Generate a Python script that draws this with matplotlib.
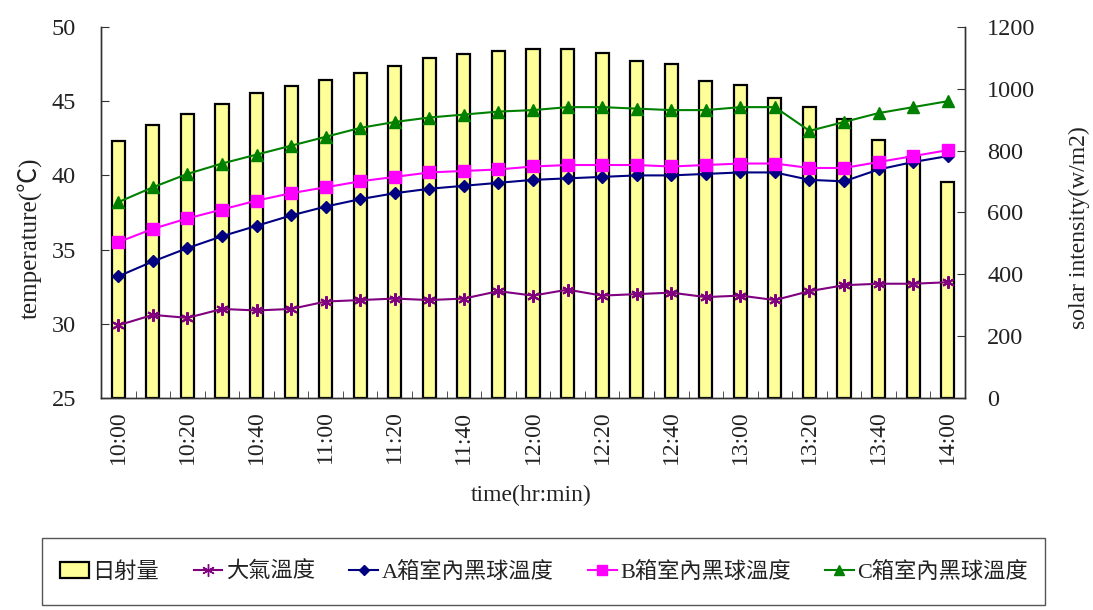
import matplotlib
matplotlib.use("Agg")
import matplotlib.pyplot as plt
from matplotlib.lines import Line2D
from matplotlib.patches import Patch, Rectangle

plt.rcParams['font.family'] = ['Liberation Serif', 'Noto Sans CJK TC', 'DejaVu Sans']

# data
times = ["10:00", "10:10", "10:20", "10:30", "10:40", "10:50", "11:00", "11:10", "11:20",
         "11:30", "11:40", "11:50", "12:00", "12:10", "12:20", "12:30", "12:40", "12:50",
         "13:00", "13:10", "13:20", "13:30", "13:40", "13:50", "14:00"]
solar = [832, 882, 920, 952, 986, 1008, 1028, 1051, 1075, 1099, 1113, 1123, 1130,
         1128, 1115, 1089, 1080, 1026, 1013, 971, 942, 902, 835, 780, 698]
atm = [29.9, 30.6, 30.4, 31.0, 30.9, 31.0, 31.5, 31.6, 31.7, 31.6, 31.7, 32.2, 31.9,
       32.3, 31.9, 32.0, 32.1, 31.8, 31.9, 31.6, 32.2, 32.6, 32.7, 32.7, 32.8]
box_a = [33.2, 34.2, 35.1, 35.9, 36.6, 37.3, 37.9, 38.4, 38.8, 39.1, 39.3, 39.5, 39.7,
         39.8, 39.9, 40.0, 40.0, 40.1, 40.2, 40.2, 39.7, 39.6, 40.4, 40.9, 41.3]
box_b = [35.5, 36.4, 37.1, 37.7, 38.3, 38.8, 39.2, 39.6, 39.9, 40.2, 40.3, 40.4, 40.6,
         40.7, 40.7, 40.7, 40.6, 40.7, 40.8, 40.8, 40.5, 40.5, 40.9, 41.3, 41.7]
box_c = [38.2, 39.2, 40.1, 40.8, 41.4, 42.0, 42.6, 43.2, 43.6, 43.9, 44.1, 44.3, 44.4,
         44.6, 44.6, 44.5, 44.4, 44.4, 44.6, 44.6, 43.0, 43.6, 44.2, 44.6, 45.0]
labels = ["日射量", "大氣溫度", "A箱室內黑球溫度", "B箱室內黑球溫度", "C箱室內黑球溫度"]

x = list(range(len(times)))
spine_col = "#333333"
text_col = "#222222"

fig = plt.figure(figsize=(10.93, 6.10), dpi=100)
ax = fig.add_axes([101/1093, 1 - 398/610, 864/1093, 371/610])
ax2 = ax.twinx()

# bars on the right axis, drawn under the lines
ax2.bar(x, solar, width=0.38, color="#FFFF99", edgecolor="black", linewidth=1.6)
ax2.set_ylim(0, 1200)
ax2.set_yticks(range(0, 1201, 200))

ax.set_zorder(ax2.get_zorder() + 1)
ax.patch.set_visible(False)

ax.plot(x, atm, color="#800080", lw=1.5, marker=(6, 2, 0), ms=9, mew=1.5)
ax.plot(x, box_a, color="#000080", lw=1.5, marker="D", ms=6)
ax.plot(x, box_b, color="#FF00FF", lw=1.5, marker="s", ms=8)
ax.plot(x, box_c, color="#008000", lw=1.5, marker="^", ms=8.5)

ax.set_ylim(25, 50)
ax.set_yticks(range(25, 51, 5))
ax.set_xlim(-0.5, len(times) - 0.5)
ax.set_xticks(x[::2])
ax.set_xticklabels(times[::2], rotation=90)
ax.set_xticks([i - 0.5 for i in range(len(times) + 1)], minor=True)

for a in (ax, ax2):
    a.spines['top'].set_visible(False)
    for s in ('left', 'right', 'bottom'):
        a.spines[s].set_color(spine_col)
        a.spines[s].set_linewidth(1.0)

ax.tick_params(axis='x', which='major', length=0, pad=9, labelsize=17, labelcolor=text_col)
ax.tick_params(axis='x', which='minor', direction='in', length=5, color=spine_col)
ax.tick_params(axis='y', direction='in', length=6, pad=18, labelsize=17.5, color=spine_col,
               labelcolor=text_col)
ax2.tick_params(axis='y', direction='in', length=6, pad=16, labelsize=17.5, color=spine_col,
                labelcolor=text_col)

ax.set_ylabel("temperature(℃)", fontsize=18, color=text_col)
ax.yaxis.set_label_coords(-0.068, 0.43)
ax2.set_ylabel("solar intensity(w/m2)", fontsize=17, color=text_col)
ax2.yaxis.set_label_coords(1.12, 0.46)
ax.set_xlabel("time(hr:min)", fontsize=17, color=text_col)
ax.xaxis.set_label_coords(0.498, -0.235)

# legend in a box below the chart
fig.add_artist(Rectangle((42/1093, 1 - 605/610), 1003/1093, 67/610,
                         transform=fig.transFigure, fill=False, edgecolor="#555555", lw=1))
handles = [
    Patch(facecolor="#FFFF99", edgecolor="black", linewidth=1.6),
    Line2D([], [], color="#800080", lw=1.5, marker=(6, 2, 0), ms=9, mew=1.0),
    Line2D([], [], color="#000080", lw=1.5, marker="D", ms=5),
    Line2D([], [], color="#FF00FF", lw=1.5, marker="s", ms=7),
    Line2D([], [], color="#008000", lw=1.5, marker="^", ms=7),
]
leg = fig.legend(handles, labels, loc='center', bbox_to_anchor=(544/1093, 1 - 572/610),
                 ncol=5, frameon=False, fontsize=16, handlelength=1.3, handletextpad=0.15,
                 columnspacing=1.55)
for t in leg.get_texts():
    t.set_color(text_col)

fig.savefig("out.png", dpi=100)
